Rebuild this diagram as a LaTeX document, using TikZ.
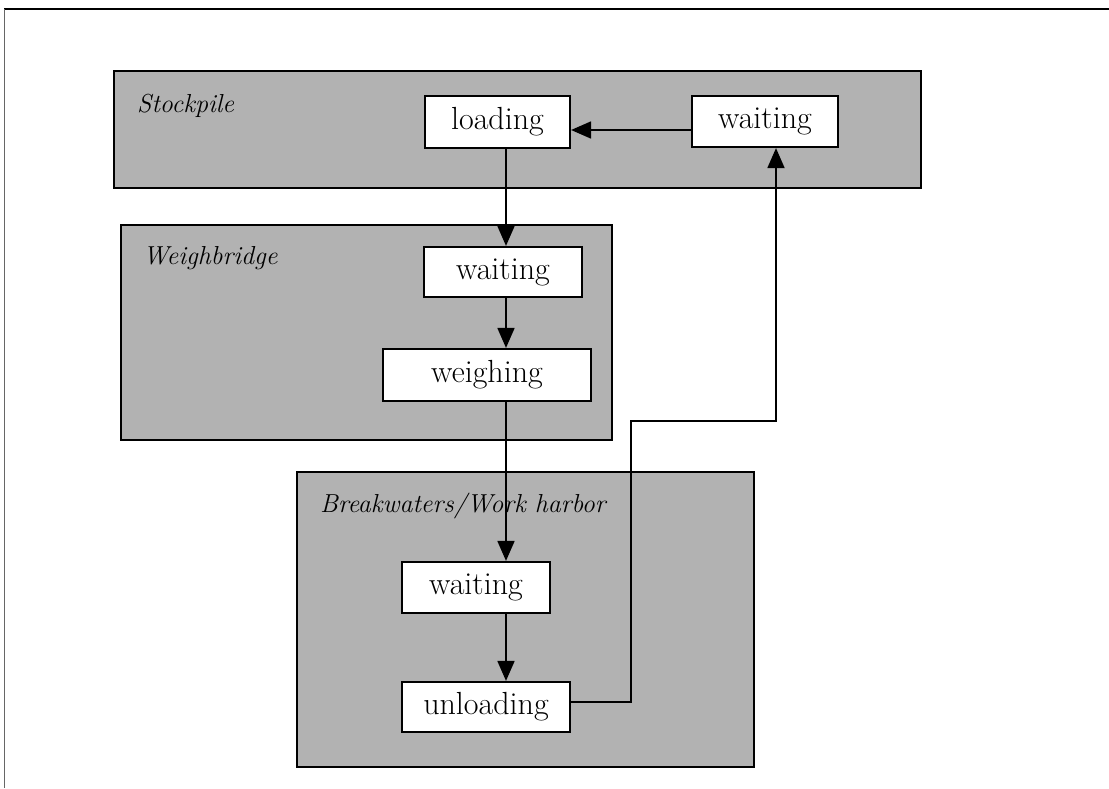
\documentclass[tikz,border=0pt]{standalone}
\usetikzlibrary{arrows.meta}
\begin{document}
\begin{tikzpicture}[x=1pt,y=-1pt,
  zone/.style={draw=black,line width=2.2pt,fill=black!30},
  statebox/.style={draw=black,line width=2.2pt,fill=white,inner sep=0pt,
    font=\fontsize{32}{38}\selectfont},
  zonelabel/.style={anchor=base west,inner sep=0pt,
    font=\fontsize{26}{30}\selectfont\itshape},
  flow/.style={line width=1.8pt,-{Triangle[length=20pt,width=17pt]}}]
\useasboundingbox (0,0) rectangle (1109,788);
% page frame
\coordinate (ftl) at (4,9);
\coordinate (ftr) at (1109,9);
\coordinate (fbl) at (4,788);
\draw[line width=2.5pt] (ftl) -- (ftr);
\draw[line width=0.8pt,black!60] (ftl) -- (fbl);
% zones
\draw[zone] (114,71) rectangle (921,188);
\draw[zone] (121,225) rectangle (612,440);
\draw[zone] (297,472) rectangle (754,767);
\node[zonelabel] (lstock) at (137,112) {Stockpile};
\node[zonelabel] (lweigh) at (143,264) {Weighbridge};
\node[zonelabel] (lbreak) at (320,512) {Breakwaters/Work harbor};
% states
\node[statebox,minimum width=145pt,minimum height=52pt] (loading) at (497.5,122) {loading};
\node[statebox,minimum width=146pt,minimum height=51pt] (waitA) at (765,121.5) {waiting};
\node[statebox,minimum width=158pt,minimum height=50pt] (waitB) at (503,272) {waiting};
\node[statebox,minimum width=208pt,minimum height=52pt] (weighing) at (487,375) {weighing};
\node[statebox,minimum width=148pt,minimum height=51pt] (waitC) at (476,587.5) {waiting};
\node[statebox,minimum width=168pt,minimum height=50pt] (unloading) at (486,707) {unloading};
% helper coordinates
\coordinate (colA) at (506,0);
\coordinate (colB) at (776,0);
\coordinate (rowA) at (0,130);
\coordinate (rowB) at (0,702);
\coordinate (retA) at (631,702);
\coordinate (retB) at (631,421);
\coordinate (retC) at (776,421);
% connectors
\draw[flow] (waitA.west |- rowA) -- (loading.east |- rowA);
\draw[flow] (loading.south -| colA) -- (waitB.north -| colA);
\draw[flow] (waitB.south -| colA) -- (weighing.north -| colA);
\draw[flow] (weighing.south -| colA) -- (waitC.north -| colA);
\draw[flow] (waitC.south -| colA) -- (unloading.north -| colA);
\draw[flow] (unloading.east |- rowB) -- (retA) -- (retB) -- (retC) -- (waitA.south -| colB);
\end{tikzpicture}
\end{document}
